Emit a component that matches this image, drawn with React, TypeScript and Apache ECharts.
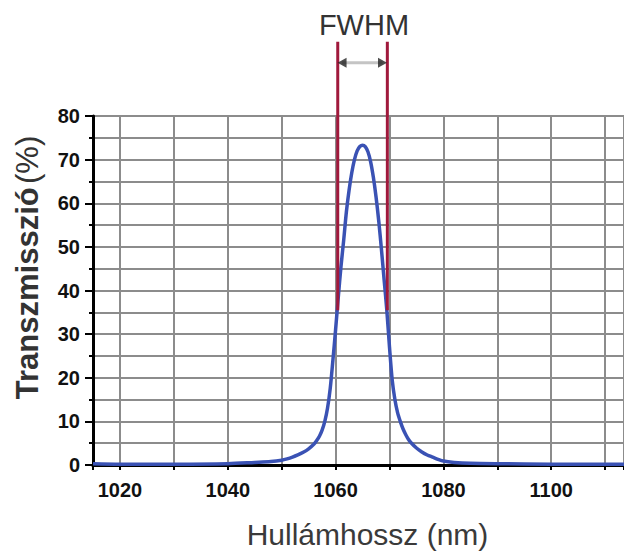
import React, { useEffect, useRef } from "react";
import * as echarts from "echarts";

const wavelengths = [1015, 1020, 1030, 1040, 1045, 1048, 1050, 1051, 1052, 1053, 1054, 1055, 1056, 1056.5, 1057, 1057.5, 1058, 1058.5, 1059, 1059.5, 1060, 1060.5, 1061, 1061.5, 1062, 1062.5, 1063, 1063.5, 1064, 1064.5, 1065, 1065.5, 1066, 1066.5, 1067, 1067.5, 1068, 1068.5, 1069, 1069.5, 1070, 1070.5, 1071, 1071.5, 1072, 1072.5, 1073, 1073.5, 1074, 1075, 1076, 1077, 1078, 1079, 1080, 1082, 1085, 1090, 1100, 1114];
const transmission = [0.3, 0.2, 0.2, 0.3, 0.6, 0.8, 1.1, 1.4, 1.8, 2.3, 2.9, 3.7, 4.8, 5.6, 6.6, 8.0, 10, 13, 17.5, 24, 31, 38.5, 45.5, 51.5, 58, 63, 67, 70, 72, 73, 73.3, 73, 71.8, 69.5, 66, 61.5, 56, 49.5, 42.5, 35.5, 27, 19.5, 15, 12, 10, 8.3, 7.0, 5.9, 5.1, 3.9, 3.0, 2.3, 1.8, 1.3, 0.9, 0.6, 0.4, 0.3, 0.2, 0.2];

const xTickLabels = [1020, 1040, 1060, 1080, 1100];
const yTickLabels = [0, 10, 20, 30, 40, 50, 60, 70, 80];

const fwhmLeft = 1060.4;
const fwhmRight = 1069.6;
const halfMax = 35.5;
const fwhmTop = 97;
const arrowLevel = 92.2;
const arrowStart = 1061.2;
const arrowEnd = 1068.7;

const FONT = "'Liberation Sans', Arial, Helvetica, sans-serif";

export default function App() {
  const ref = useRef<HTMLDivElement>(null);
  useEffect(() => {
    if (!ref.current) return;
    const chart = echarts.init(ref.current, null, { renderer: "svg" });
    const gridColor = "#8c8c8c";
    const red = "#a0193c";
    chart.setOption({
      animation: false,
      backgroundColor: "#ffffff",
      textStyle: { fontFamily: FONT },
      grid: { left: 93, right: 0, top: 116, bottom: 86, outerBoundsMode: "none", containLabel: false },
      graphic: [
        {
          type: "text",
          x: 364,
          y: 25,
          style: {
            text: "FWHM",
            fontFamily: FONT,
            fontSize: 29,
            fill: "#333333",
            textAlign: "center",
            textVerticalAlign: "middle",
          },
        },
      ],
      xAxis: [
        {
          type: "value",
          min: 1015,
          max: 1113.5,
          splitNumber: 10,
          position: "bottom",
          name: "Hullámhossz (nm)",
          nameLocation: "middle",
          nameGap: 54,
          nameTextStyle: { fontSize: 30, color: "#3a3a3a", fontFamily: FONT, padding: [0, 0, 0, 18] },
          axisLine: { show: true, onZero: false, lineStyle: { color: "#000", width: 3 } },
          axisTick: { show: true, length: 5, lineStyle: { color: "#000", width: 2 } },
          axisLabel: {
            margin: 15,
            fontSize: 20,
            fontWeight: "bold",
            color: "#111",
            fontFamily: FONT,
            formatter: (v: number) => (xTickLabels.includes(Math.round(v)) && Math.abs(v - Math.round(v)) < 1e-6 ? String(Math.round(v)) : ""),
          },
          splitLine: { show: true, lineStyle: { color: gridColor, width: 2 } },
        },
        {
          type: "value",
          min: 1015,
          max: 1113.5,
          position: "top",
          axisLine: { show: true, lineStyle: { color: "#000", width: 3 } },
          axisTick: { show: false },
          axisLabel: { show: false },
          splitLine: { show: false },
        },
      ],
      yAxis: {
        type: "value",
        min: 0,
        max: 80,
        interval: 10,
        name: "{b|Transzmisszió} {n|(%)}",
        nameLocation: "middle",
        nameGap: 50,
        nameRotate: 90,
        nameTextStyle: {
          color: "#333333",
          rich: {
            b: { fontSize: 31, fontWeight: "bold", color: "#333333", fontFamily: FONT, padding: [0, 0, 0, 46] },
            n: { fontSize: 31, color: "#333333", fontFamily: FONT },
          },
        },
        axisLine: { show: true, lineStyle: { color: "#000", width: 3 } },
        axisTick: { show: true, length: 8, lineStyle: { color: "#000", width: 2 } },
        minorTick: { show: true, splitNumber: 2, length: 4, lineStyle: { color: "#000", width: 2 } },
        axisLabel: {
          margin: 13,
          fontSize: 20,
          fontWeight: "bold",
          color: "#111",
          fontFamily: FONT,
          formatter: (v: number) => (yTickLabels.includes(v) ? String(v) : ""),
        },
        splitLine: { show: true, lineStyle: { color: gridColor, width: 2 } },
        minorSplitLine: { show: true, lineStyle: { color: gridColor, width: 2 } },
      },
      series: [
        {
          type: "line",
          data: wavelengths.map((w, i) => [w, transmission[i]]),
          smooth: 0.3,
          symbol: "none",
          lineStyle: { color: "#3a52b4", width: 3.5 },
          z: 5,
        },
        {
          type: "line",
          data: [
            [fwhmLeft, halfMax],
            [fwhmLeft, fwhmTop],
          ],
          clip: false,
          symbol: "none",
          lineStyle: { color: red, width: 3 },
          z: 6,
        },
        {
          type: "line",
          data: [
            [fwhmRight, halfMax],
            [fwhmRight, fwhmTop],
          ],
          clip: false,
          symbol: "none",
          lineStyle: { color: red, width: 3 },
          z: 6,
        },
        {
          type: "line",
          data: [
            [arrowStart, arrowLevel],
            [arrowEnd, arrowLevel],
          ],
          clip: false,
          symbol: "none",
          lineStyle: { color: "#c4c4c4", width: 3 },
          z: 6,
        },
        {
          type: "scatter",
          clip: false,
          symbol: "triangle",
          symbolSize: [10, 9],
          itemStyle: { color: "#222" },
          data: [
            { value: [arrowStart, arrowLevel], symbolRotate: 90 },
            { value: [arrowEnd, arrowLevel], symbolRotate: -90 },
          ],
          z: 7,
        },
      ],
    });
    return () => chart.dispose();
  }, []);
  return <div ref={ref} style={{ position: "fixed", left: 0, top: 0, width: 624, height: 551 }} />;
}
